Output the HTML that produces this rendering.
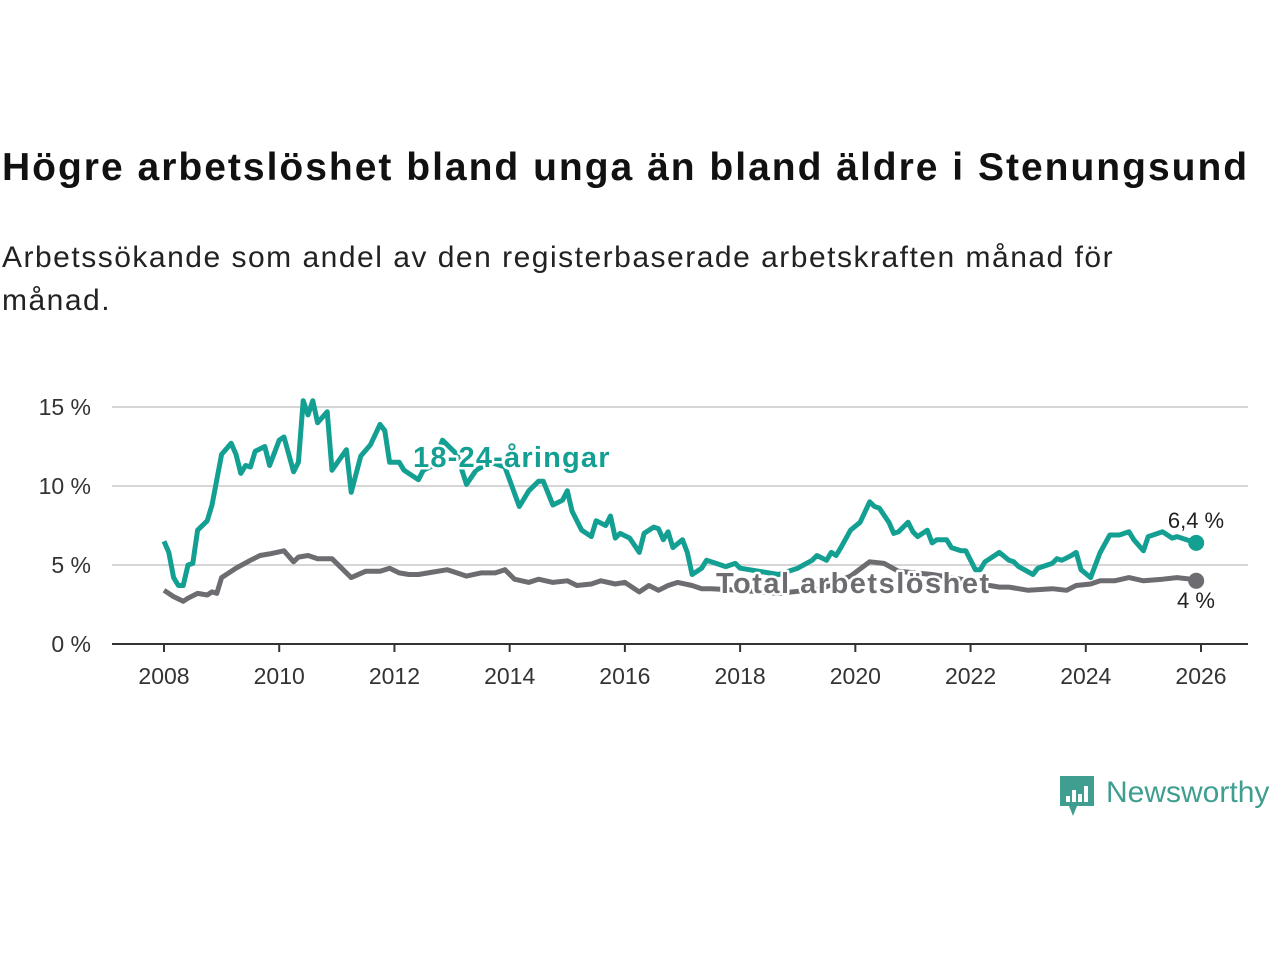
<!DOCTYPE html>
<html><head><meta charset="utf-8"><style>
body{margin:0;width:1280px;height:960px;background:#fff;font-family:"Liberation Sans","DejaVu Sans",sans-serif;overflow:hidden}
#title{position:absolute;left:2px;top:146px;font-size:39px;font-weight:bold;color:#111;white-space:nowrap;letter-spacing:2px}
#sub{position:absolute;left:2px;top:236px;font-size:30px;line-height:43px;color:#222;width:1175px;letter-spacing:1.5px}
svg{position:absolute;left:0;top:0}
</style></head><body>
<div id="title">Högre arbetslöshet bland unga än bland äldre i Stenungsund</div>
<div id="sub">Arbetssökande som andel av den registerbaserade arbetskraften månad för månad.</div>
<svg id="chart" width="1280" height="960"></svg>
<script>
const yTicks=[0,5,10,15];
const yTickLabels=["0 %","5 %","10 %","15 %"];
const xYears=[2008,2010,2012,2014,2016,2018,2020,2022,2024,2026];
const youthMonths=[0,1,2,3,4,5,6,7,9,10,11,12,14,15,16,17,18,19,21,22,24,25,27,28,29,30,31,32,34,35,38,39,41,43,45,46,47,49,50,51,53,54,56,58,61,63,65,68,71,74,76,78,79,81,83,84,85,87,89,90,92,93,94,95,97,99,100,102,103,104,105,106,108,109,110,112,113,115,117,119,120,124,128,132,135,136,138,139,140,141,143,145,147,148,149,151,152,153,155,156,157,159,160,161,163,164,166,167,169,170,171,172,174,176,177,178,181,182,185,186,187,189,190,191,193,195,197,199,201,202,204,205,208,210,211,213,215];
const youthValues=[6.5,5.8,4.2,3.7,3.7,5.0,5.1,7.2,7.8,8.8,10.4,12.0,12.7,12.0,10.8,11.3,11.2,12.2,12.5,11.3,12.9,13.1,10.9,11.5,15.4,14.5,15.4,14.0,14.7,11.0,12.3,9.6,11.9,12.6,13.9,13.5,11.5,11.5,11.0,10.8,10.4,11.0,11.3,12.9,12.0,10.1,11.0,11.5,11.2,8.7,9.7,10.3,10.3,8.8,9.1,9.7,8.4,7.2,6.8,7.8,7.5,8.1,6.7,7.0,6.7,5.8,7.0,7.4,7.3,6.6,7.1,6.1,6.6,5.8,4.4,4.8,5.3,5.1,4.9,5.1,4.8,4.6,4.4,4.8,5.3,5.6,5.3,5.8,5.6,6.1,7.2,7.7,9.0,8.7,8.6,7.7,7.0,7.1,7.7,7.1,6.8,7.2,6.4,6.6,6.6,6.1,5.9,5.9,4.7,4.7,5.2,5.4,5.8,5.3,5.2,4.9,4.4,4.8,5.1,5.4,5.3,5.6,5.8,4.7,4.2,5.8,6.9,6.9,7.1,6.6,5.9,6.8,7.1,6.7,6.8,6.6,6.4];
const totalMonths=[0,2,4,5,7,9,10,11,12,15,18,20,22,25,27,28,30,32,35,37,39,42,45,47,49,51,53,55,59,61,63,66,69,71,73,76,78,81,84,86,89,91,94,96,99,101,103,105,107,110,112,114,120,128,137,143,147,150,153,160,166,172,174,176,180,185,188,190,193,195,198,201,204,208,211,214,215];
const totalValues=[3.4,3.0,2.7,2.9,3.2,3.1,3.3,3.2,4.2,4.8,5.3,5.6,5.7,5.9,5.2,5.5,5.6,5.4,5.4,4.8,4.2,4.6,4.6,4.8,4.5,4.4,4.4,4.5,4.7,4.5,4.3,4.5,4.5,4.7,4.1,3.9,4.1,3.9,4.0,3.7,3.8,4.0,3.8,3.9,3.3,3.7,3.4,3.7,3.9,3.7,3.5,3.5,3.4,3.2,3.5,4.3,5.2,5.1,4.6,4.4,4.1,3.7,3.6,3.6,3.4,3.5,3.4,3.7,3.8,4.0,4.0,4.2,4.0,4.1,4.2,4.1,4.0];

const NS="http://www.w3.org/2000/svg";
const svg=document.getElementById('chart');
const X0=164,X1=1201,Y0=644,Y15=407;
function xm(m){return X0+m*(X1-X0)/216;}
function xy(y){return xm((y-2008)*12);}
function yv(v){return Y0+(Y15-Y0)*v/15;}
function mk(tag,attrs,parent){const e=document.createElementNS(NS,tag);for(const k in attrs)e.setAttribute(k,attrs[k]);(parent||svg).appendChild(e);return e;}
const F='"Liberation Sans","DejaVu Sans",sans-serif';
yTicks.forEach((t,i)=>{
  if(t>0){const g=mk('line',{x1:112,x2:1248,y1:yv(t),y2:yv(t),stroke:'#d6d6d6','stroke-width':2});
  
  }
  const tx=mk('text',{x:91,y:yv(t)+8,'text-anchor':'end','font-size':23,fill:'#333','font-family':F});
  tx.textContent=yTickLabels[i];
  
  
});
const ax=mk('line',{x1:112,x2:1248,y1:Y0,y2:Y0,stroke:'#333','stroke-width':2});


xYears.forEach(y=>{
  const tk=mk('line',{x1:xy(y),x2:xy(y),y1:Y0,y2:Y0+8,stroke:'#333','stroke-width':2});
  
  
  const tx=mk('text',{x:xy(y),y:684,'text-anchor':'middle','font-size':23,fill:'#333','font-family':F});
  tx.textContent=y;
  
  
});
function line(ms,vs,color,name){
  const d=ms.map((m,i)=>(i?'L':'M')+xm(m).toFixed(1)+','+yv(vs[i]).toFixed(1)).join('');
  const p=mk('path',{d:d,fill:'none',stroke:color,'stroke-width':5,'stroke-linejoin':'round'});
  
  
  const c=mk('circle',{cx:xm(ms[ms.length-1]),cy:yv(vs[vs.length-1]),r:8,fill:color});
  
  
}
line(totalMonths,totalValues,'#6d6c70','total-line');
line(youthMonths,youthValues,'#13a092','youth-line');
function lab(x,y,txt,color,name,anchor,size,bold,ls){
  const t=mk('text',{x:x,y:y,'text-anchor':anchor,'font-size':size,'font-weight':bold?'bold':'normal',fill:color,'font-family':F,stroke:'#fff','stroke-width':bold?5:4,'paint-order':'stroke','stroke-linejoin':'round','letter-spacing':ls||0});
  t.textContent=txt;
  
  
}
lab(413,467,'18-24-åringar','#13a092','youth-series-label','start',29,true,1.2);
lab(716,593,'Total arbetslöshet','#6d6c70','total-series-label','start',29,true,1.5);
lab(1196,528,'6,4 %','#222','youth-end-value','middle',22,false);
lab(1196,608,'4 %','#222','total-end-value','middle',22,false);
// logo
const lg=mk('g',{});


mk('path',{d:'M1060,776 h34 v30 h-17 l-4,10 l-4,-10 h-9 z',fill:'#3f9e8f'},lg);
[[1066,796,6],[1072,790,12],[1078,794,8],[1084,786,16]].forEach(b=>mk('rect',{x:b[0],y:b[1],width:4,height:b[2],fill:'#fff'},lg));
const lt=mk('text',{x:1106,y:802,'font-size':30,fill:'#3f9e8f','font-family':F},lg);
lt.textContent='Newsworthy';
</script>
</body></html>
